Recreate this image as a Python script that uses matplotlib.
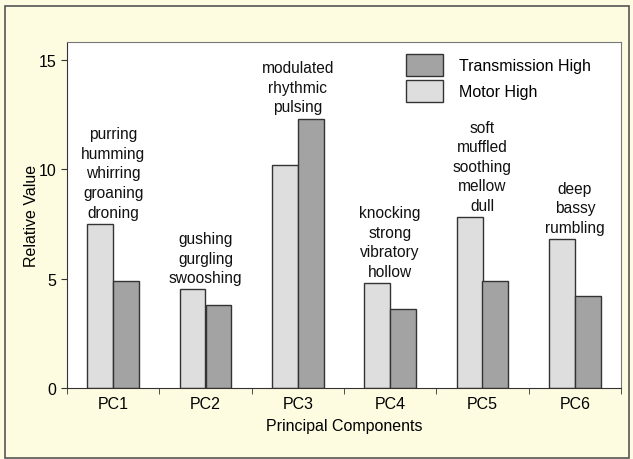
import numpy as np
import matplotlib
matplotlib.use('Agg')
import matplotlib.pyplot as plt
from matplotlib.patches import Rectangle

plt.rcParams['font.family'] = ['Liberation Sans', 'DejaVu Sans']

# datos
componentes = ['PC1', 'PC2', 'PC3', 'PC4', 'PC5', 'PC6']
motor_high = [7.5, 4.5, 10.2, 4.8, 7.8, 6.8]
transmission_high = [4.9, 3.8, 12.3, 3.6, 4.9, 4.2]
descriptores = [
    'purring\nhumming\nwhirring\ngroaning\ndroning',
    'gushing\ngurgling\nswooshing',
    'modulated\nrhythmic\npulsing',
    'knocking\nstrong\nvibratory\nhollow',
    'soft\nmuffled\nsoothing\nmellow\ndull',
    'deep\nbassy\nrumbling',
]

fondo = '#fefce0'
fig = plt.figure(figsize=(6.33, 4.6), dpi=100, facecolor=fondo)

# marco exterior
fig.patches.append(Rectangle((5 / 633, 1 / 460), 624 / 633, 452 / 460,
                             transform=fig.transFigure, facecolor='none',
                             edgecolor='#555555', linewidth=1.2, zorder=0))

ax = fig.add_axes([67 / 633, 1 - 389 / 460, 554 / 633, 346 / 460])
ax.set_facecolor('white')

x = np.arange(len(componentes))
ancho = 0.28
ax.bar(x - ancho / 2, motor_high, ancho, color='#dedede', edgecolor='#333333',
       linewidth=1, label='Motor High', zorder=2)
ax.bar(x + ancho / 2, transmission_high, ancho, color='#a3a3a3', edgecolor='#333333',
       linewidth=1, label='Transmission High', zorder=2)

for i, txt in enumerate(descriptores):
    top = max(motor_high[i], transmission_high[i])
    ax.annotate(txt, (x[i], top), xytext=(0, 3), textcoords='offset points',
                ha='center', va='bottom', fontsize=11.2, linespacing=1.38, color='#111111')

ax.set_xlim(-0.5, 5.5)
ax.set_ylim(0, 15.8)
ax.set_yticks([0, 5, 10, 15])
ax.set_xticks(x)
ax.set_xticklabels(componentes)
ax.set_xticks(np.arange(-0.5, 6, 1), minor=True)
ax.tick_params(axis='x', which='major', length=0, pad=6, labelsize=11.5)
ax.tick_params(axis='x', which='minor', length=4, direction='out', color='#333333')
ax.tick_params(axis='y', length=4, direction='out', labelsize=11.5, color='#333333')

for s in ['left', 'bottom']:
    ax.spines[s].set_color('#333333')
for s in ['top', 'right']:
    ax.spines[s].set_color('#777777')

ax.set_xlabel('Principal Components', fontsize=11.5, labelpad=5)
ax.set_ylabel('Relative Value', fontsize=11.5, labelpad=0)

handles, labels = ax.get_legend_handles_labels()
ax.legend(handles[::-1], labels[::-1], loc='upper left', bbox_to_anchor=(0.59, 1.0),
          frameon=False, fontsize=11.5, handlelength=2.3, handleheight=1.75,
          labelspacing=0.25, handletextpad=1.0, borderaxespad=0.35)

plt.savefig('out.png', dpi=100, facecolor=fondo)
